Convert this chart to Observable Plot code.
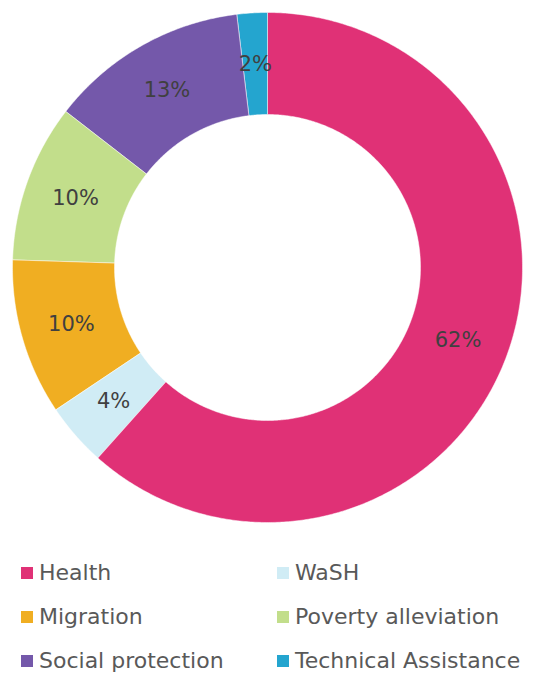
<!DOCTYPE html>
<html>
<head>
<meta charset="utf-8">
<script src="https://cdn.jsdelivr.net/npm/d3@7"></script>
<script src="https://cdn.jsdelivr.net/npm/@observablehq/plot@0.6"></script>
<style>
  body { margin: 0; background: #fff; font-family: "DejaVu Sans", sans-serif; }
  #wrap { position: relative; width: 541px; height: 673px; overflow: hidden; }
  .item { position: absolute; display: flex; align-items: center; font-size: 22px; line-height: 26px; color: #595959; white-space: nowrap; }
  .sw { width: 12px; height: 12px; margin-right: 6px; flex: none; }
</style>
</head>
<body>
<div id="wrap"></div>
<script>
const categories = ["Health", "WaSH", "Migration", "Poverty alleviation", "Social protection", "Technical Assistance"];
const values = [61.6, 4.0, 9.9, 10.0, 12.6, 1.9];
const colors = ["#E03176", "#D0ECF5", "#F0AE22", "#C2DE8B", "#7458AA", "#24A5CF"];

const outerR = 1, innerR = 0.6;
const pie = d3.pie().sort(null).value(d => d.value)(categories.map((name, i) => ({name, value: values[i]})));
const total = d3.sum(values);

function pt(r, a) { return [r * Math.sin(a), -r * Math.cos(a)]; }
const features = pie.map(s => {
  const n = Math.max(2, Math.ceil((s.endAngle - s.startAngle) / (Math.PI / 360)));
  const ring = [];
  for (let k = 0; k <= n; k++) ring.push(pt(outerR, s.startAngle + (s.endAngle - s.startAngle) * k / n));
  for (let k = n; k >= 0; k--) ring.push(pt(innerR, s.startAngle + (s.endAngle - s.startAngle) * k / n));
  ring.push(ring[0]);
  return {type: "Feature", properties: {name: s.data.name}, geometry: {type: "Polygon", coordinates: [ring]}};
});
const labels = pie.map(s => {
  const a = (s.startAngle + s.endAngle) / 2;
  const [x, y] = pt((outerR + innerR) / 2, a);
  return {x, y, text: Math.round(s.data.value / total * 100) + "%"};
});

const chart = Plot.plot({
  width: 541,
  height: 534,
  marginTop: 0, marginLeft: 0, marginBottom: 0, marginRight: 7,
  projection: {type: "identity", domain: {type: "MultiPoint", coordinates: [[-1, -1], [1, 1]]}, inset: 12},
  color: {domain: categories, range: colors},
  marks: [
    Plot.geo(features, {fill: d => d.properties.name, stroke: "white", strokeWidth: 0.8, strokeOpacity: 0.6}),
    Plot.text(labels, {x: "x", y: "y", text: "text", fill: "#404040", fontSize: 21, fontFamily: "DejaVu Sans"})
  ]
});
const wrap = document.getElementById("wrap");
wrap.appendChild(chart);

const colX = [21, 277];
const rowY = [560, 604, 648];
categories.forEach((name, i) => {
  const div = document.createElement("div");
  div.className = "item";
  div.style.left = colX[i % 2] + "px";
  div.style.top = rowY[Math.floor(i / 2)] + "px";
  div.innerHTML = `<span class="sw" style="background:${colors[i]}"></span><span>${name}</span>`;
  wrap.appendChild(div);
});
</script>
</body>
</html>
